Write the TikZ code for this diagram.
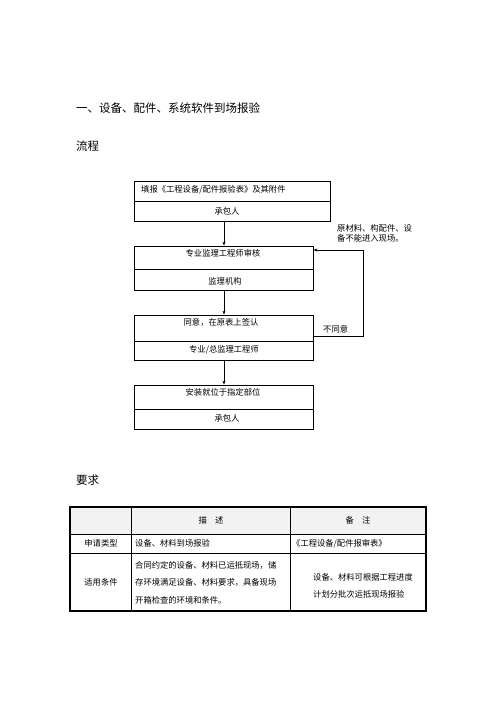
\documentclass[tikz,border=0pt]{standalone}
\usepackage{fontspec}
\setmainfont{Noto Sans CJK SC}
\usepackage{tikz}
\usetikzlibrary{positioning, arrows.meta}
\definecolor{headgray}{RGB}{242, 242, 242}

\begin{document}
\begin{tikzpicture}[x=1pt, y=-1pt, >={Stealth[length=4pt, width=3pt]},
    box/.style={draw, line width=0.8pt, minimum width=179pt, inner sep=0pt},
    txt/.style={font=\fontsize{8.3}{10}\selectfont, inner sep=0pt},
    head/.style={font=\fontsize{11.5}{13}\selectfont, inner sep=0pt, anchor=west},
    cell/.style={font=\fontsize{8.3}{10}\selectfont, inner sep=0pt}]
  \useasboundingbox (0,0) rectangle (496,702);

  % headings
  \node[head] (title) at (76,108) {一、设备、配件、系统软件到场报验};
  \node[head] (flow)  at (76,146) {流程};
  \node[head] (req)   at (76,480) {要求};

  % flow boxes (upper and lower part)
  \node[box, minimum width=196pt, minimum height=20pt] (b1u) at (232,191) {};
  \node[box, minimum width=196pt, minimum height=20pt] (b1l) at (232,211) {};
  \node[box, minimum height=23pt] (b2u) at (223.5,257.5) {};
  \node[box, minimum height=21pt] (b2l) at (223.5,279.5) {};
  \node[box, minimum height=26pt] (b3u) at (223.5,328)   {};
  \node[box, minimum height=19pt] (b3l) at (223.5,350.5) {};
  \node[box, minimum height=24pt] (b4u) at (223.5,397)   {};
  \node[box, minimum height=20pt] (b4l) at (223.5,419)   {};

  \node[txt, anchor=west] (t1u) at (141,190) {填报《工程设备/配件报验表》及其附件};
  \node[txt] (t1l) at (227,211) {承包人};
  \node[txt] (t2u) at (223,253) {专业监理工程师审核};
  \node[txt] (t2l) at (225,281) {监理机构};
  \node[txt] (t3u) at (221,322) {同意，在原表上签认};
  \node[txt] (t3l) at (224,350) {专业/总监理工程师};
  \node[txt] (t4u) at (223,392) {安装就位于指定部位};
  \node[txt] (t4l) at (227,418) {承包人};

  % main flow
  \draw[->, line width=0.8pt] (b1l.south -| 224,0) -- (b2u.north -| 224,0);
  \draw[->, line width=0.8pt] (b2l.south -| 224,0) -- (b3u.north -| 224,0);
  \draw[->, line width=0.8pt] (b3l.south -| 224,0) -- (b4u.north -| 224,0);

  % return path
  \coordinate (r1) at (363,336);
  \coordinate (r2) at (363,250);
  \draw[->, line width=0.8pt] (b3u.east |- r1) -- (r1) -- (r2) -- (b2u.east |- r2);
  \node[txt, anchor=west] (no) at (323,329) {不同意};
  \node[txt, anchor=west, align=left] (note) at (337,233)
        {原材料、构配件、设\\备不能进入现场。};

  % requirement table
  \fill[headgray] (70,507) rectangle (426,534);
  \draw[line width=0.5pt] (70,534) -- (426,534);
  \draw[line width=0.5pt] (70,553) -- (426,553);
  \draw[line width=0.5pt] (131.5,507) -- (131.5,611);
  \draw[line width=0.5pt] (290,507) -- (290,611);
  \draw[line width=1.3pt] (70,507) rectangle (426,611);

  \node[cell] (h2) at (211,520.5) {描\hspace{1em}述};
  \node[cell] (h3) at (358,520.5) {备\hspace{1em}注};
  \node[cell] (c11) at (101,543.5) {申请类型};
  \node[cell, anchor=west] (c12) at (135,543.5) {设备、材料到场报验};
  \node[cell, anchor=west] (c13) at (292,543.5) {《工程设备/配件报审表》};
  \node[cell] (c21) at (101,582) {适用条件};
  \node[cell, anchor=west] (c22a) at (135,565) {合同约定的设备、材料已运抵现场，储};
  \node[cell, anchor=west] (c22b) at (135,582.5) {存环境满足设备、材料要求，具备现场};
  \node[cell, anchor=west] (c22c) at (135,600) {开箱检查的环境和条件。};
  \node[cell, anchor=west] (c23a) at (313,577) {设备、材料可根据工程进度};
  \node[cell, anchor=west] (c23b) at (313,594) {计划分批次运抵现场报验};
\end{tikzpicture}
\end{document}
